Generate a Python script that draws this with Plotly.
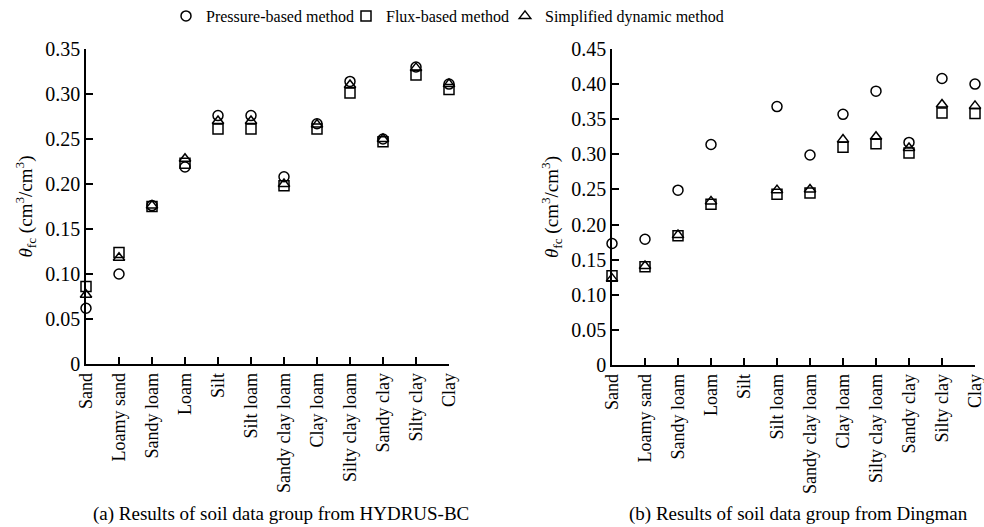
import plotly.graph_objects as go

categories = ["Sand", "Loamy sand", "Sandy loam", "Loam", "Silt", "Silt loam",
              "Sandy clay loam", "Clay loam", "Silty clay loam", "Sandy clay",
              "Silty clay", "Clay"]

# (a) HYDRUS-BC
a_pressure = [0.062, 0.100, 0.176, 0.219, 0.276, 0.276, 0.208, 0.267, 0.314, 0.250, 0.330, 0.311]
a_flux     = [0.086, 0.124, 0.175, 0.223, 0.261, 0.261, 0.198, 0.261, 0.301, 0.247, 0.321, 0.305]
a_simpl    = [0.077, 0.118, 0.176, 0.228, 0.270, 0.270, 0.200, 0.266, 0.310, 0.250, 0.329, 0.311]

# (b) Dingman
b_pressure = [0.173, 0.179, 0.249, 0.314, None, 0.368, 0.299, 0.357, 0.390, 0.317, 0.408, 0.400]
b_flux     = [0.127, 0.140, 0.184, 0.229, None, 0.243, 0.245, 0.310, 0.315, 0.302, 0.359, 0.358]
b_simpl    = [0.123, 0.141, 0.185, 0.233, None, 0.249, 0.250, 0.321, 0.325, 0.309, 0.371, 0.369]

series_names = ["Pressure-based method", "Flux-based method", "Simplified dynamic method"]
symbols = ["circle-open", "square-open", "triangle-up-open"]

a_ticks = [0, 0.05, 0.10, 0.15, 0.20, 0.25, 0.30, 0.35]
a_ticktext = ["0", "0.05", "0.10", "0.15", "0.20", "0.25", "0.30", "0.35"]
b_ticks = [0, 0.05, 0.10, 0.15, 0.20, 0.25, 0.30, 0.35, 0.40, 0.45]
b_ticktext = ["0", "0.05", "0.10", "0.15", "0.20", "0.25", "0.30", "0.35", "0.40", "0.45"]

captions = ["(a) Results of soil data group from HYDRUS-BC",
            "(b) Results of soil data group from Dingman"]
ytitle = "<i>θ</i><sub>fc</sub> (cm<sup>3</sup>/cm<sup>3</sup>)"

FONT = "Liberation Serif, Times New Roman, serif"
W, H = 984, 527

legend_ids = ["legend", "legend2", "legend3"]
legend_x_px = [166, 346, 505]

fig = go.Figure()
for vals_a, vals_b, name, sym, lid in zip([a_pressure, a_flux, a_simpl],
                                          [b_pressure, b_flux, b_simpl],
                                          series_names, symbols, legend_ids):
    mk = dict(symbol=sym, size=10, color="black", line=dict(color="black", width=1.5))
    fig.add_trace(go.Scatter(x=categories, y=vals_a, mode="markers", name=name,
                             marker=mk, xaxis="x", yaxis="y", cliponaxis=False,
                             legendgroup=name, legend=lid))
    fig.add_trace(go.Scatter(x=categories, y=vals_b, mode="markers", name=name,
                             marker=mk, xaxis="x2", yaxis="y2", cliponaxis=False,
                             legendgroup=name, showlegend=False, legend=lid))

axis_common = dict(showline=True, linecolor="black", linewidth=1.5,
                   ticks="inside", ticklen=7, tickwidth=1.5, tickcolor="black",
                   showgrid=False, zeroline=False, automargin=False)
yfont = dict(family=FONT, size=20, color="black")
xfont = dict(family=FONT, size=18, color="black")

fig.update_layout(
    width=W, height=H,
    margin=dict(l=0, r=0, t=0, b=0, pad=0, autoexpand=False),
    paper_bgcolor="white", plot_bgcolor="white",
    font=dict(family=FONT, size=19, color="black"),
    xaxis=dict(domain=[86/W, 449/W], anchor="y", type="category",
               range=[0, 11], tickangle=-90, tickfont=xfont, **axis_common),
    yaxis=dict(domain=[1-364/H, 1-49/H], anchor="x", range=[0, 0.35],
               tickvals=a_ticks, ticktext=a_ticktext, tickfont=yfont,
               title=dict(text=ytitle, font=dict(family=FONT, size=19), standoff=8),
               **axis_common),
    xaxis2=dict(domain=[612/W, 975/W], anchor="y2", type="category",
                range=[0, 11], tickangle=-90, tickfont=xfont, **axis_common),
    yaxis2=dict(domain=[1-365/H, 1-49/H], anchor="x2", range=[0, 0.45],
                tickvals=b_ticks, ticktext=b_ticktext, tickfont=yfont,
                title=dict(text=ytitle, font=dict(family=FONT, size=19), standoff=8),
                **axis_common),
    showlegend=True,
)

for lid, lx in zip(legend_ids, legend_x_px):
    fig.update_layout({lid: dict(orientation="h", x=lx/W, y=1-16/H,
                                 xanchor="left", yanchor="middle",
                                 font=dict(family=FONT, size=16, color="black"),
                                 itemwidth=30, bgcolor="rgba(0,0,0,0)")})

for txt, cx in zip(captions, [281/W, 798/W]):
    fig.add_annotation(text=txt, x=cx, y=1-514/H, xref="paper", yref="paper",
                       xanchor="center", yanchor="middle", showarrow=False,
                       font=dict(family=FONT, size=19, color="black"))

fig.write_html("out.html", post_script="document.body.style.margin='0';")
